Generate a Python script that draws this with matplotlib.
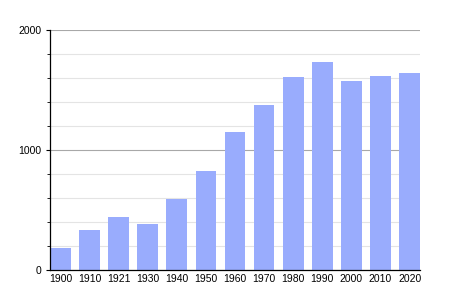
import matplotlib
matplotlib.use('Agg')
import matplotlib.pyplot as plt
from matplotlib.ticker import MultipleLocator

years = ['1900', '1910', '1921', '1930', '1940', '1950', '1960',
         '1970', '1980', '1990', '2000', '2010', '2020']
population = [185, 333, 442, 383, 594, 825, 1150, 1375, 1608, 1736, 1578, 1617, 1642]

plt.rcParams['font.family'] = ['Liberation Sans', 'DejaVu Sans']

fig = plt.figure(figsize=(4.5, 3), dpi=100)
ax = fig.add_axes([50 / 450, 30 / 300, 370 / 450, 240 / 300])

width = 0.71
x = range(len(years))
ax.bar(x, population, width=width, color='#99acfd', zorder=2)

ax.set_xlim(-width / 2, len(years) - 1 + width / 2)
ax.set_ylim(0, 2000)
ax.set_xticks(list(x))
ax.set_xticklabels(years)
ax.yaxis.set_major_locator(MultipleLocator(1000))
ax.yaxis.set_minor_locator(MultipleLocator(200))

ax.grid(True, axis='y', which='minor', color='#e4e4e4', linewidth=0.8, zorder=0)
ax.grid(True, axis='y', which='major', color='#a8a8a8', linewidth=0.8, zorder=1)

for side in ['top', 'right']:
    ax.spines[side].set_visible(False)
ax.spines['left'].set_color('black')
ax.spines['bottom'].set_color('black')
ax.spines['left'].set_linewidth(0.9)
ax.spines['bottom'].set_linewidth(0.9)

ax.tick_params(axis='x', length=0, labelsize=7.5, pad=3)
ax.tick_params(axis='y', which='major', length=3, labelsize=7.5, pad=3)
ax.tick_params(axis='y', which='minor', length=2)

fig.savefig('out.png', dpi=100)
